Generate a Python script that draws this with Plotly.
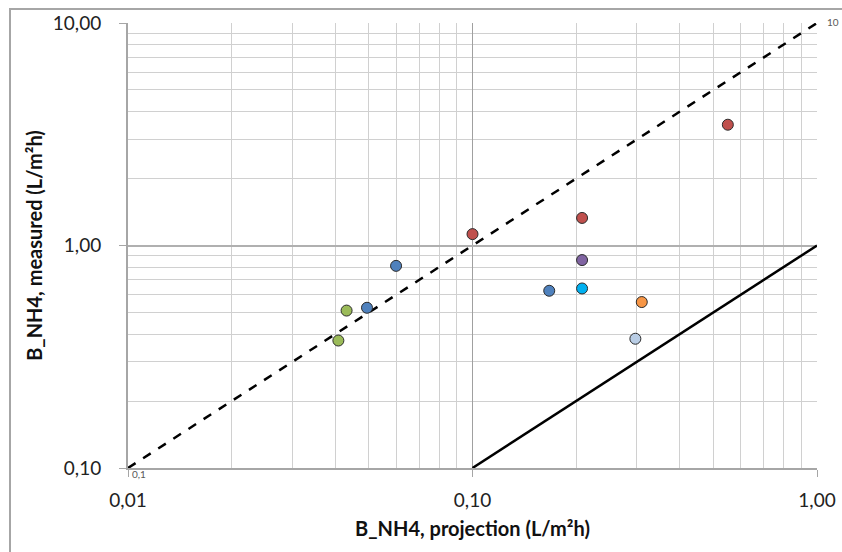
import math
import plotly.graph_objects as go

# Data points (projection, measured, colour)
proj = [0.100, 0.208, 0.208, 0.208, 0.167, 0.310, 0.297, 0.060, 0.0494, 0.0431, 0.0408, 0.551]
meas = [1.125, 1.33, 0.86, 0.641, 0.626, 0.557, 0.381, 0.81, 0.525, 0.510, 0.374, 3.49]
colors = ["#C0504D", "#C0504D", "#8064A2", "#00B0F0", "#4F81BD", "#F79646", "#B9CDE5",
          "#4F81BD", "#4F81BD", "#9BBB59", "#9BBB59", "#C0504D"]

# Reference lines
dash_x = [0.01, 1.0]
dash_y = [0.1, 10.0]
solid_x = [0.1, 1.0]
solid_y = [0.1, 1.0]

x_ticks = [0.01, 0.1, 1.0]
x_labels = ["0,01", "0,10", "1,00"]
y_ticks = [0.1, 1.0, 10.0]
y_labels = ["0,10", "1,00", "10,00"]

FONT = "Lato, Carlito, Calibri, sans-serif"

fig = go.Figure()
fig.add_trace(go.Scatter(x=dash_x, y=dash_y, mode="lines",
                         line=dict(color="black", width=2.5, dash="dash"),
                         showlegend=False, hoverinfo="skip"))
fig.add_trace(go.Scatter(x=solid_x, y=solid_y, mode="lines",
                         line=dict(color="black", width=2.5),
                         showlegend=False, hoverinfo="skip"))
fig.add_trace(go.Scatter(x=proj, y=meas, mode="markers",
                         marker=dict(size=11, color=colors, line=dict(color="#2b2b2b", width=1)),
                         showlegend=False))

# endpoint data labels (annotation positions on log axes are given in log10 units)
fig.add_annotation(x=math.log10(dash_x[0]), y=math.log10(dash_y[0]), xref="x", yref="y",
                   text="0,1", showarrow=False,
                   xanchor="left", yanchor="top", xshift=2, yshift=2,
                   font=dict(family=FONT, size=10, color="#595959"))
fig.add_annotation(x=math.log10(dash_x[1]), y=math.log10(dash_y[1]), xref="x", yref="y",
                   text="10", showarrow=False,
                   xanchor="left", yanchor="middle", xshift=8, yshift=1,
                   font=dict(family=FONT, size=10, color="#595959"))

grid_minor = "#D0D0D0"
fig.update_xaxes(type="log", range=[-2, 0], tickvals=x_ticks, ticktext=x_labels,
                 showgrid=True, gridcolor="#A0A0A0", gridwidth=1,
                 minor=dict(dtick="D1", showgrid=True, gridcolor=grid_minor, gridwidth=1, ticks=""),
                 showline=True, linecolor="#A6A6A6", linewidth=2, mirror=False,
                 ticks="outside", ticklen=7, tickcolor="#A6A6A6", tickwidth=1,
                 ticklabelstandoff=7, automargin=False,
                 tickfont=dict(family=FONT, size=19, color="#222"),
                 title=dict(text="<b>B_NH4, projection (L/m²h)</b>", standoff=12,
                            font=dict(family=FONT, size=20, color="#111")),
                 zeroline=False)
fig.update_yaxes(type="log", range=[-1, 1], tickvals=y_ticks, ticktext=y_labels,
                 showgrid=True, gridcolor="#B0B0B0", gridwidth=2,
                 minor=dict(dtick="D1", showgrid=True, gridcolor=grid_minor, gridwidth=1, ticks=""),
                 showline=True, linecolor="#A6A6A6", linewidth=2, mirror=False,
                 ticks="outside", ticklen=7, tickcolor="#A6A6A6", tickwidth=1,
                 ticklabelstandoff=14, automargin=True,
                 tickfont=dict(family=FONT, size=19, color="#222"),
                 title=dict(text="<b>B_NH4, measured (L/m²h)</b>", standoff=5,
                            font=dict(family=FONT, size=20, color="#111")),
                 zeroline=False)

# outer chart border (left & top visible)
fig.add_shape(type="rect", xref="paper", yref="paper",
              x0=(10 - 128) / 689, x1=(850 - 128) / 689,
              y0=1 - (560 - 23) / 445, y1=1 + (23 - 9) / 445,
              line=dict(color="#A6A6A6", width=2), fillcolor="rgba(0,0,0,0)", layer="below")

fig.update_layout(width=842, height=552,
                  margin=dict(l=128, r=25, t=23, b=84),
                  plot_bgcolor="white", paper_bgcolor="white",
                  font=dict(family=FONT))

fig.write_html("out.html")
